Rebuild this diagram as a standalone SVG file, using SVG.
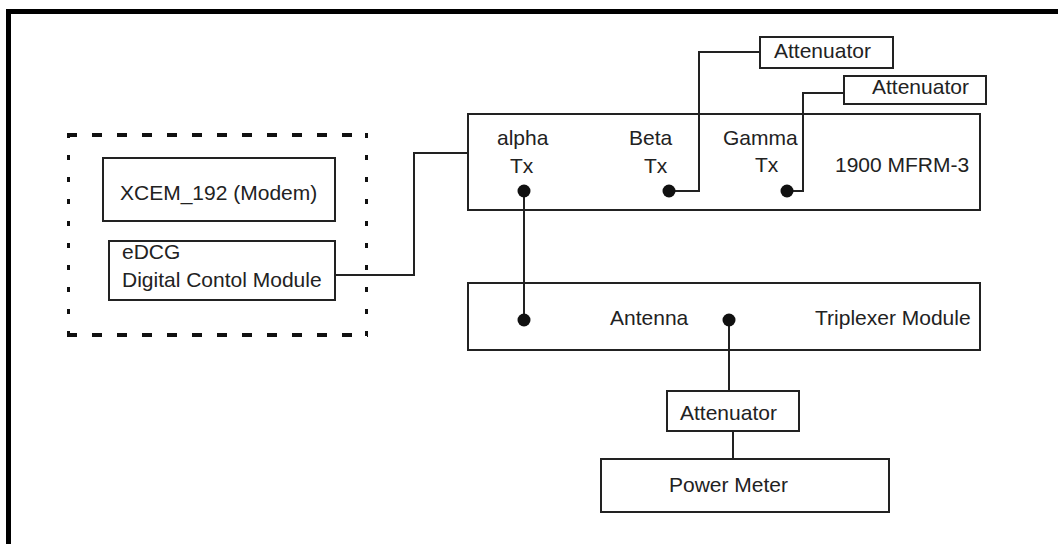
<svg xmlns="http://www.w3.org/2000/svg" width="1058" height="544" viewBox="0 0 1058 544">
<style>
.bx{fill:#fff;stroke:#222;stroke-width:2}
.ln{fill:none;stroke:#222;stroke-width:2}
.dt{fill:#111}
.t{font-family:"Liberation Sans",Arial,sans-serif;font-size:21px;fill:#222}
.dh{fill:none;stroke:#111;stroke-width:4;stroke-dasharray:10 15}
.dv{fill:none;stroke:#111;stroke-width:3;stroke-dasharray:5 17}
</style>
<rect x="0" y="0" width="1058" height="544" fill="#fff"/>
<g id="frame">
<rect x="6" y="9" width="1052" height="5" fill="#000"/>
<rect x="6" y="9" width="5" height="535" fill="#000"/>
</g>
<g id="group-dashed">
<path class="dh" d="M67 135 H368"/>
<path class="dh" d="M67 335 H368"/>
<path class="dv" d="M68.5 133 V337"/>
<path class="dv" d="M366.5 133 V337"/>
</g>
<g id="connectors">
<path class="ln" d="M335 275 H414 V153 H468"/>
<path class="ln" d="M669 191 H699 V52 H760"/>
<path class="ln" d="M787 191 H803 V93 H844"/>
<path class="ln" d="M524 191 V320"/>
<path class="ln" d="M729 320 V391"/>
<path class="ln" d="M733 431 V459"/>
</g>
<g id="xcem">
<rect class="bx" x="103" y="158" width="232" height="63"/>
<text class="t" x="120" y="200">XCEM_192 (Modem)</text>
</g>
<g id="edcg">
<rect class="bx" x="109" y="241" width="226" height="59"/>
<text class="t" x="122" y="259">eDCG</text>
<text class="t" x="122" y="287">Digital Contol Module</text>
</g>
<g id="mfrm">
<rect class="bx" x="468" y="114" width="512" height="96"/>
<text class="t" x="497" y="145">alpha</text>
<text class="t" x="510" y="173">Tx</text>
<text class="t" x="629" y="145">Beta</text>
<text class="t" x="644" y="173">Tx</text>
<text class="t" x="723" y="145">Gamma</text>
<text class="t" x="755" y="172">Tx</text>
<text class="t" x="835" y="172">1900 MFRM-3</text>
<path class="ln" d="M669 191 H699 V114"/>
<path class="ln" d="M787 191 H803 V114"/>
<path class="ln" d="M524 191 V210"/>
<circle class="dt" cx="524" cy="191" r="6.5"/>
<circle class="dt" cx="669" cy="191" r="6.5"/>
<circle class="dt" cx="787" cy="191" r="6.5"/>
</g>
<g id="att1">
<rect class="bx" x="760" y="37" width="133" height="31"/>
<text class="t" x="774" y="58">Attenuator</text>
</g>
<g id="att2">
<rect class="bx" x="844" y="76" width="142" height="28"/>
<text class="t" x="872" y="94">Attenuator</text>
</g>
<g id="triplexer">
<rect class="bx" x="468" y="283" width="512" height="67"/>
<text class="t" x="610" y="325">Antenna</text>
<text class="t" x="815" y="325">Triplexer Module</text>
<path class="ln" d="M524 283 V320"/>
<path class="ln" d="M729 320 V350"/>
<circle class="dt" cx="524" cy="320" r="6.5"/>
<circle class="dt" cx="729" cy="320" r="6.5"/>
</g>
<g id="att3">
<rect class="bx" x="667" y="391" width="132" height="40"/>
<text class="t" x="680" y="420">Attenuator</text>
</g>
<g id="power">
<rect class="bx" x="601" y="459" width="288" height="53"/>
<text class="t" x="669" y="492">Power Meter</text>
</g>
</svg>
